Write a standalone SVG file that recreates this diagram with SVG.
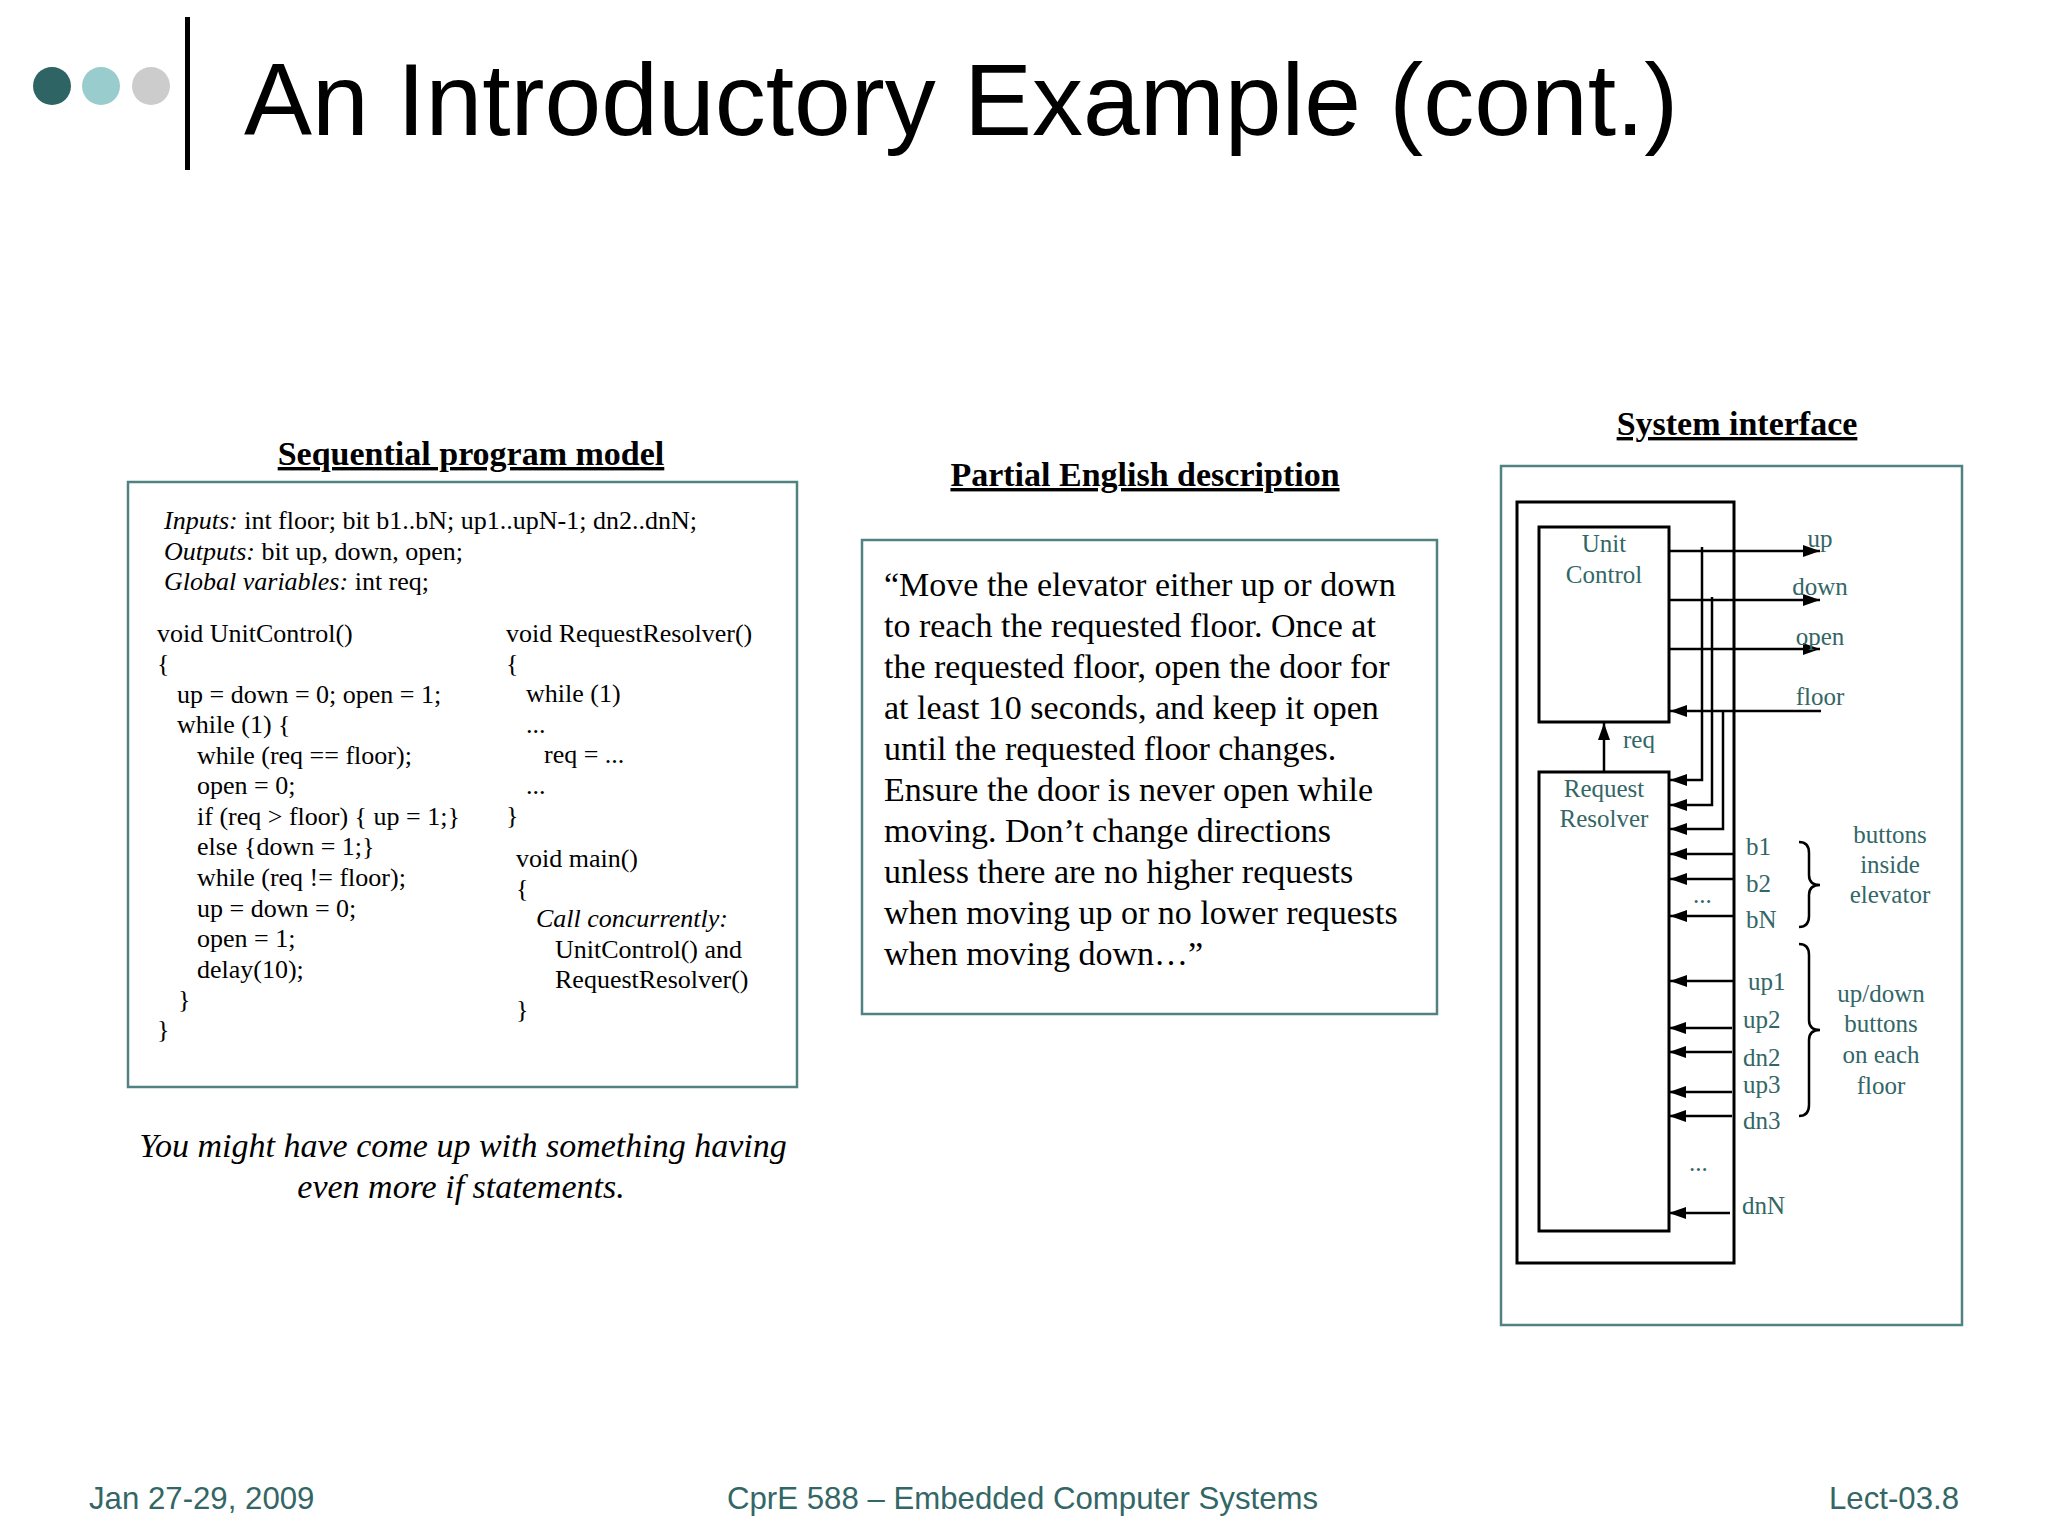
<svg xmlns="http://www.w3.org/2000/svg" width="2048" height="1536" viewBox="0 0 2048 1536">
<style>
.title{font-family:"Liberation Sans",Arial,sans-serif;font-size:102px;fill:#000}
.foot{font-family:"Liberation Sans",Arial,sans-serif;font-size:31.2px;fill:#336666}
.head{font-family:"Liberation Serif","Times New Roman",serif;font-size:34px;font-weight:bold;fill:#000;text-decoration:underline}
.code{font-family:"Liberation Serif","Times New Roman",serif;font-size:26px;fill:#000}
.desc{font-family:"Liberation Serif","Times New Roman",serif;font-size:34px;fill:#000}
.cap{font-family:"Liberation Serif","Times New Roman",serif;font-size:34px;font-style:italic;fill:#000}
.lbl{font-family:"Liberation Serif","Times New Roman",serif;font-size:25px;fill:#336666}
.panel{fill:none;stroke:#4f8280;stroke-width:2.5}
.blk{fill:none;stroke:#000;stroke-width:3}
.wire{fill:none;stroke:#000;stroke-width:2.5}
</style>
<defs>
<marker id="ah" markerUnits="userSpaceOnUse" markerWidth="18" markerHeight="12" refX="17" refY="6" orient="auto">
<path d="M0,0 L17,6 L0,12 z" fill="#000"/>
</marker>
</defs>
<rect width="2048" height="1536" fill="#fff"/>

<g id="header">
<circle cx="52" cy="86" r="19" fill="#2f6464"/>
<circle cx="101" cy="86" r="19" fill="#99cccc"/>
<circle cx="151" cy="86" r="19" fill="#cccccc"/>
<rect x="185" y="17" width="5" height="153" fill="#000"/>
<text class="title" x="244" y="135">An Introductory Example (cont.)</text>
</g>

<g id="sequential-program-model">
<text class="head" x="471" y="465" text-anchor="middle">Sequential program model</text>
<rect class="panel" x="128" y="482" width="669" height="605"/>
<text class="code" x="164" y="529"><tspan font-style="italic">Inputs:</tspan> int floor; bit b1..bN; up1..upN-1; dn2..dnN;</text>
<text class="code" x="164" y="560"><tspan font-style="italic">Outputs:</tspan> bit up, down, open;</text>
<text class="code" x="164" y="590"><tspan font-style="italic">Global variables:</tspan> int req;</text>
<text class="code" x="157" y="642">void UnitControl()</text>
<text class="code" x="157" y="672">{</text>
<text class="code" x="177" y="703">up = down = 0; open = 1;</text>
<text class="code" x="177" y="733">while (1) {</text>
<text class="code" x="197" y="764">while (req == floor);</text>
<text class="code" x="197" y="794">open = 0;</text>
<text class="code" x="197" y="825">if (req &gt; floor) { up = 1;}</text>
<text class="code" x="197" y="855">else {down = 1;}</text>
<text class="code" x="197" y="886">while (req != floor);</text>
<text class="code" x="197" y="917">up = down = 0;</text>
<text class="code" x="197" y="947">open = 1;</text>
<text class="code" x="197" y="978">delay(10);</text>
<text class="code" x="178" y="1008">}</text>
<text class="code" x="157" y="1038">}</text>
<text class="code" x="506" y="642">void RequestResolver()</text>
<text class="code" x="506" y="672">{</text>
<text class="code" x="526" y="702">while (1)</text>
<text class="code" x="526" y="733">...</text>
<text class="code" x="544" y="763">req = ...</text>
<text class="code" x="526" y="794">...</text>
<text class="code" x="506" y="824">}</text>
<text class="code" x="516" y="867">void main()</text>
<text class="code" x="516" y="897">{</text>
<text class="code" x="536" y="927" font-style="italic">Call concurrently:</text>
<text class="code" x="555" y="958">UnitControl() and</text>
<text class="code" x="555" y="988">RequestResolver()</text>
<text class="code" x="516" y="1018">}</text>
<text class="cap" x="463" y="1157" text-anchor="middle">You might have come up with something having</text>
<text class="cap" x="461" y="1198" text-anchor="middle">even more if statements.</text>
</g>

<g id="partial-english-description">
<text class="head" x="1145" y="486" text-anchor="middle">Partial English description</text>
<rect class="panel" x="862" y="540" width="575" height="474"/>
<text class="desc" x="884" y="596">“Move the elevator either up or down</text>
<text class="desc" x="884" y="637">to reach the requested floor. Once at</text>
<text class="desc" x="884" y="678">the requested floor, open the door for</text>
<text class="desc" x="884" y="719">at least 10 seconds, and keep it open</text>
<text class="desc" x="884" y="760">until the requested floor changes.</text>
<text class="desc" x="884" y="801">Ensure the door is never open while</text>
<text class="desc" x="884" y="842">moving. Don’t change directions</text>
<text class="desc" x="884" y="883">unless there are no higher requests</text>
<text class="desc" x="884" y="924">when moving up or no lower requests</text>
<text class="desc" x="884" y="965">when moving down…”</text>
</g>

<g id="system-interface">
<text class="head" x="1737" y="435" text-anchor="middle">System interface</text>
<rect class="panel" x="1501" y="466" width="461" height="859"/>
<rect class="blk" x="1517" y="502" width="217" height="761"/>
</g>

<g id="unit-control">
<rect class="blk" x="1539" y="527" width="130" height="195"/>
<text class="lbl" x="1604" y="552" text-anchor="middle">Unit</text>
<text class="lbl" x="1604" y="583" text-anchor="middle">Control</text>
</g>

<g id="request-resolver">
<rect class="blk" x="1539" y="772" width="130" height="459"/>
<text class="lbl" x="1604" y="797" text-anchor="middle">Request</text>
<text class="lbl" x="1604" y="827" text-anchor="middle">Resolver</text>
</g>

<g id="connectors">
<line class="wire" x1="1669" y1="551" x2="1820" y2="551" marker-end="url(#ah)"/>
<line class="wire" x1="1669" y1="600" x2="1820" y2="600" marker-end="url(#ah)"/>
<line class="wire" x1="1669" y1="649" x2="1820" y2="649" marker-end="url(#ah)"/>
<line class="wire" x1="1821" y1="711" x2="1670" y2="711" marker-end="url(#ah)"/>
<line class="wire" x1="1604" y1="772" x2="1604" y2="723" marker-end="url(#ah)"/>
<polyline class="wire" points="1702,547 1702,780 1670,780" marker-end="url(#ah)"/>
<polyline class="wire" points="1712,597 1712,805 1670,805" marker-end="url(#ah)"/>
<polyline class="wire" points="1723,711 1723,829 1670,829" marker-end="url(#ah)"/>
<line class="wire" x1="1733" y1="854" x2="1670" y2="854" marker-end="url(#ah)"/>
<line class="wire" x1="1733" y1="879" x2="1670" y2="879" marker-end="url(#ah)"/>
<line class="wire" x1="1733" y1="916" x2="1670" y2="916" marker-end="url(#ah)"/>
<line class="wire" x1="1733" y1="981" x2="1670" y2="981" marker-end="url(#ah)"/>
<line class="wire" x1="1732" y1="1028" x2="1669" y2="1028" marker-end="url(#ah)"/>
<line class="wire" x1="1732" y1="1052" x2="1669" y2="1052" marker-end="url(#ah)"/>
<line class="wire" x1="1732" y1="1092" x2="1669" y2="1092" marker-end="url(#ah)"/>
<line class="wire" x1="1732" y1="1116" x2="1669" y2="1116" marker-end="url(#ah)"/>
<line class="wire" x1="1730" y1="1213" x2="1669" y2="1213" marker-end="url(#ah)"/>
<path class="wire" d="M1799,842 Q1809,842 1809,853 L1809,875 Q1809,885 1820,885 Q1809,885 1809,895 L1809,916 Q1809,927 1799,927"/>
<path class="wire" d="M1799,944 Q1809,944 1809,955 L1809,1020 Q1809,1030 1820,1030 Q1809,1030 1809,1040 L1809,1105 Q1809,1116 1799,1116"/>
</g>

<g id="signal-labels">
<text class="lbl" x="1820" y="547" text-anchor="middle">up</text>
<text class="lbl" x="1820" y="595" text-anchor="middle">down</text>
<text class="lbl" x="1820" y="645" text-anchor="middle">open</text>
<text class="lbl" x="1820" y="705" text-anchor="middle">floor</text>
<text class="lbl" x="1623" y="748">req</text>
<text class="lbl" x="1746" y="855">b1</text>
<text class="lbl" x="1746" y="892">b2</text>
<text class="lbl" x="1693" y="903">...</text>
<text class="lbl" x="1746" y="928">bN</text>
<text class="lbl" x="1748" y="990">up1</text>
<text class="lbl" x="1743" y="1028">up2</text>
<text class="lbl" x="1743" y="1066">dn2</text>
<text class="lbl" x="1743" y="1093">up3</text>
<text class="lbl" x="1743" y="1129">dn3</text>
<text class="lbl" x="1689" y="1171">...</text>
<text class="lbl" x="1742" y="1214">dnN</text>
<text class="lbl" x="1890" y="843" text-anchor="middle">buttons</text>
<text class="lbl" x="1890" y="873" text-anchor="middle">inside</text>
<text class="lbl" x="1890" y="903" text-anchor="middle">elevator</text>
<text class="lbl" x="1881" y="1002" text-anchor="middle">up/down</text>
<text class="lbl" x="1881" y="1032" text-anchor="middle">buttons</text>
<text class="lbl" x="1881" y="1063" text-anchor="middle">on each</text>
<text class="lbl" x="1881" y="1094" text-anchor="middle">floor</text>
</g>

<g id="footer">
<text class="foot" x="89" y="1509">Jan 27-29, 2009</text>
<text class="foot" x="727" y="1509">CprE 588 – Embedded Computer Systems</text>
<text class="foot" x="1959" y="1509" text-anchor="end">Lect-03.8</text>
</g>
</svg>
